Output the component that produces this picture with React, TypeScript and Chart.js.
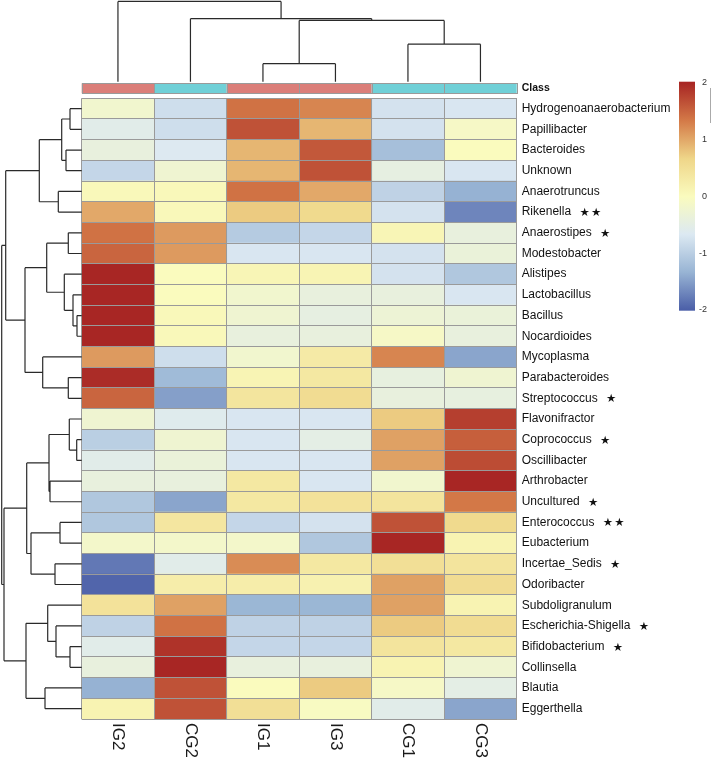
import React, { useEffect, useRef } from "react";
import { Chart, registerables } from "chart.js";
Chart.register(...registerables);

// ---------- DATA ----------
const columns = ["IG2", "CG2", "IG1", "IG3", "CG1", "CG3"];
const columnClass = ["IG", "CG", "IG", "IG", "CG", "CG"];
const classColors: Record<string, string> = { IG: "#DB7E79", CG: "#70D0D7" };

const genera = [
  "Hydrogenoanaerobacterium", "Papillibacter", "Bacteroides", "Unknown", "Anaerotruncus",
  "Rikenella", "Anaerostipes", "Modestobacter", "Alistipes", "Lactobacillus",
  "Bacillus", "Nocardioides", "Mycoplasma", "Parabacteroides", "Streptococcus",
  "Flavonifractor", "Coprococcus", "Oscillibacter", "Arthrobacter", "Uncultured",
  "Enterococcus", "Eubacterium", "Incertae_Sedis", "Odoribacter", "Subdoligranulum",
  "Escherichia-Shigella", "Bifidobacterium", "Collinsella", "Blautia", "Eggerthella",
];

const significance = [
  "", "", "", "", "", "**", "*", "", "", "",
  "", "", "", "", "*", "", "*", "", "", "*",
  "**", "", "*", "", "", "*", "*", "", "", "",
];

const valuesIG2 = [-0.2, -0.55, -0.4, -0.9, 0.05, 1.0, 1.4, 1.5, 2.0, 2.0, 2.0, 2.0, 1.1, 1.95, 1.5, -0.25, -1.0, -0.55, -0.4, -1.1, -1.1, -0.15, -1.8, -1.95, 0.45, -0.95, -0.55, -0.4, -1.35, 0.15];
const valuesCG2 = [-0.8, -0.8, -0.65, -0.25, 0.05, 0.05, 1.1, 1.1, 0.0, 0.0, 0.05, 0.05, -0.8, -1.25, -1.5, -0.6, -0.25, -0.35, -0.4, -1.45, 0.38, -0.15, -0.55, 0.25, 1.05, 1.4, 1.9, 2.0, 1.65, 1.65];
const valuesIG1 = [1.4, 1.65, 0.9, 0.9, 1.4, 0.75, -1.05, -0.7, 0.1, -0.2, -0.25, -0.4, -0.2, 0.12, 0.4, -0.7, -0.7, -0.7, 0.35, 0.35, -0.9, -0.15, 1.2, 0.25, -1.3, -0.95, -0.9, -0.4, 0.0, 0.5];
const valuesIG3 = [1.25, 0.9, 1.6, 1.65, 1.0, 0.6, -0.9, -0.7, 0.12, -0.4, -0.45, -0.4, 0.3, 0.35, 0.55, -0.7, -0.5, -0.7, -0.7, 0.45, -0.75, -1.1, 0.35, 0.18, -1.3, -0.95, -0.9, -0.4, 0.75, -0.05];
const valuesCG1 = [-0.75, -0.75, -1.2, -0.45, -0.95, -0.75, 0.1, -0.75, -0.75, -0.4, -0.3, -0.1, 1.25, -0.42, -0.4, 0.75, 1.05, 1.05, -0.2, 0.42, 1.65, 2.0, 0.5, 1.05, 1.05, 0.75, 0.42, 0.15, -0.1, -0.55];
const valuesCG3 = [-0.7, -0.1, 0.0, -0.7, -1.35, -1.7, -0.4, -0.35, -1.1, -0.7, -0.35, -0.4, -1.45, -0.25, -0.42, 1.8, 1.55, 1.7, 2.0, 1.35, 0.6, 0.15, 0.42, 0.55, 0.15, 0.55, 0.35, -0.25, -0.5, -1.45];
const columnValues = [valuesIG2, valuesCG2, valuesIG1, valuesIG3, valuesCG1, valuesCG3];

const legendTicks = [2, 1, 0, -1, -2];
const colorStops = [-2, -1.333, -0.667, 0, 0.667, 1.333, 2];
const colorHex = ["#4B5FA8", "#98B4D4", "#DCE9F2", "#FAFBBE", "#EFD689", "#D47A48", "#A82624"];

// Column dendrogram (leaf indices in display order; "m#" = earlier merge), heights
const colMerges: [string, string, number][] = [
  ["2", "3", 18],
  ["4", "5", 37.5],
  ["m0", "m1", 61.3],
  ["1", "m2", 63],
  ["0", "m3", 80.3],
];

// Row dendrogram
const rowMerges: [string, string, number][] = [
  ["0", "1", 11.7],    // m0
  ["2", "3", 15.7],    // m1
  ["m0", "m1", 20],    // m2
  ["4", "5", 23.4],    // m3
  ["m2", "m3", 42.4],  // m4
  ["6", "7", 13.4],    // m5
  ["10", "11", 4.7],   // m6
  ["9", "m6", 8.7],    // m7
  ["8", "m7", 17.4],   // m8
  ["m5", "m8", 35],    // m9
  ["13", "14", 13.4],  // m10
  ["12", "m10", 39],   // m11
  ["m9", "m11", 56.7], // m12
  ["m4", "m12", 76],   // m13
  ["16", "17", 5],     // m14
  ["15", "m14", 12.4], // m15
  ["18", "19", 31.7],  // m16
  ["m15", "m16", 32.7],// m17
  ["20", "21", 21.7],  // m18
  ["22", "23", 26.7],  // m19
  ["m18", "m19", 50.7],// m20
  ["m17", "m20", 55],  // m21
  ["26", "27", 11.7],  // m22
  ["25", "m22", 25.7], // m23
  ["24", "m23", 34],   // m24
  ["28", "29", 36.7],  // m25
  ["m24", "m25", 55.7],// m26
  ["m21", "m26", 77.7],// m27
  ["m13", "m27", 80],  // m28
];

// ---------- HELPERS ----------
function hexToRgb(h: string) {
  const n = parseInt(h.slice(1), 16);
  return [(n >> 16) & 255, (n >> 8) & 255, n & 255];
}
function valueToColor(v: number) {
  const x = Math.max(-2, Math.min(2, v));
  let i = 0;
  while (i < colorStops.length - 2 && x > colorStops[i + 1]) i++;
  const t = (x - colorStops[i]) / (colorStops[i + 1] - colorStops[i]);
  const a = hexToRgb(colorHex[i]);
  const b = hexToRgb(colorHex[i + 1]);
  const c = a.map((av, k) => Math.round(av + (b[k] - av) * t));
  return `rgb(${c[0]},${c[1]},${c[2]})`;
}

const FONT = '"Liberation Sans", Arial, Helvetica, sans-serif';

function drawDendrogram(
  ctx: CanvasRenderingContext2D,
  merges: [string, string, number][],
  leafPos: (i: number) => number,
  toPix: (h: number) => number,
  vertical: boolean
) {
  const nodes: { pos: number; h: number }[] = [];
  const get = (id: string) =>
    id.startsWith("m") ? nodes[parseInt(id.slice(1), 10)] : { pos: leafPos(parseInt(id, 10)), h: 0 };
  const line = (p1: number, h1: number, p2: number, h2: number) => {
    if (vertical) {
      ctx.moveTo(p1, toPix(h1));
      ctx.lineTo(p2, toPix(h2));
    } else {
      ctx.moveTo(toPix(h1), p1);
      ctx.lineTo(toPix(h2), p2);
    }
  };
  ctx.beginPath();
  merges.forEach(([a, b, h]) => {
    const na = get(a);
    const nb = get(b);
    line(na.pos, na.h, na.pos, h);
    line(nb.pos, nb.h, nb.pos, h);
    line(na.pos, h, nb.pos, h);
    nodes.push({ pos: (na.pos + nb.pos) / 2, h });
  });
  ctx.stroke();
}

const decorPlugin = {
  id: "heatmapDecor",
  afterDraw(chart: any) {
    const ctx: CanvasRenderingContext2D = chart.ctx;
    const xs = chart.scales.x;
    const ys = chart.scales.y;
    const area = chart.chartArea;
    ctx.save();

    // class annotation bar
    const barTop = area.top - 15;
    const barH = 10;
    columns.forEach((_, c) => {
      const x0 = xs.getPixelForValue(c);
      const x1 = xs.getPixelForValue(c + 1);
      ctx.fillStyle = classColors[columnClass[c]];
      ctx.fillRect(x0, barTop, x1 - x0, barH);
    });
    ctx.strokeStyle = "#9a9a9a";
    ctx.lineWidth = 1;
    columns.forEach((_, c) => {
      const x0 = Math.round(xs.getPixelForValue(c)) + 0.5;
      const x1 = Math.round(xs.getPixelForValue(c + 1)) + 0.5;
      ctx.strokeRect(x0, Math.round(barTop) + 0.5, x1 - x0, barH);
    });
    ctx.fillStyle = "#111";
    ctx.font = `bold 10.5px ${FONT}`;
    ctx.textAlign = "left";
    ctx.textBaseline = "middle";
    ctx.fillText("Class", area.right + 5, barTop + barH / 2);

    // dendrograms
    ctx.strokeStyle = "#2a2a2a";
    ctx.lineWidth = 1.2;
    drawDendrogram(
      ctx,
      colMerges,
      (i) => xs.getPixelForValue(i + 0.5),
      (h) => 81.7 - h,
      true
    );
    drawDendrogram(
      ctx,
      rowMerges,
      (i) => ys.getPixelForValue(i),
      (h) => area.left - h,
      false
    );

    // column labels (rotated, reading top to bottom)
    ctx.fillStyle = "#1a1a1a";
    ctx.font = `17px ${FONT}`;
    ctx.textAlign = "left";
    ctx.textBaseline = "middle";
    columns.forEach((name, c) => {
      const x = xs.getPixelForValue(c + 0.5);
      ctx.save();
      ctx.translate(x, area.bottom + 4);
      ctx.rotate(Math.PI / 2);
      ctx.fillText(name, 0, 0);
      ctx.restore();
    });

    // significance stars
    genera.forEach((g, i) => {
      const s = significance[i];
      if (!s) return;
      ctx.font = `12px ${FONT}`;
      const w = ctx.measureText(g).width;
      const y = ys.getPixelForValue(i) + 1;
      ctx.font = `11.5px "DejaVu Sans", sans-serif`;
      ctx.fillStyle = "#111";
      ctx.textAlign = "center";
      ctx.textBaseline = "middle";
      for (let k = 0; k < s.length; k++) {
        ctx.fillText("\u2605", area.right + 5 + w + 13.5 + k * 11.5, y);
      }
    });

    // colour legend
    const lx = 679;
    const lw = 16;
    const vy = (v: number) => 196.5 - 56.75 * v;
    const top = 81.7;
    const bottom = 310.7;
    const grad = ctx.createLinearGradient(0, vy(2), 0, vy(-2));
    colorStops.forEach((s, k) => {
      grad.addColorStop((2 - s) / 4, colorHex[k]);
    });
    ctx.fillStyle = grad;
    ctx.fillRect(lx, top, lw, bottom - top);
    ctx.fillStyle = "#333";
    ctx.font = `9px ${FONT}`;
    ctx.textAlign = "right";
    ctx.textBaseline = "middle";
    legendTicks.forEach((t) => {
      ctx.fillText(String(t), 707, vy(t));
    });
    ctx.strokeStyle = "#aaaaaa";
    ctx.lineWidth = 1;
    ctx.beginPath();
    ctx.moveTo(710.5, 88);
    ctx.lineTo(710.5, 123);
    ctx.stroke();

    ctx.restore();
  },
};

export default function App() {
  const ref = useRef<HTMLCanvasElement | null>(null);
  useEffect(() => {
    document.body.style.margin = "0";
    const canvas = ref.current;
    if (!canvas) return;
    const datasets = columns.map((col, c) => ({
      label: col,
      data: genera.map(() => [c, c + 1]),
      backgroundColor: columnValues[c].map(valueToColor),
      borderWidth: 0,
      barPercentage: 1,
      categoryPercentage: 1,
      grouped: false,
    }));
    const chart = new Chart(canvas, {
      type: "bar",
      data: { labels: genera, datasets: datasets as any },
      options: {
        indexAxis: "y",
        responsive: false,
        animation: false,
        layout: { padding: { left: 81.7, top: 98.3, right: 0, bottom: 40 } },
        plugins: { legend: { display: false }, tooltip: { enabled: false } },
        scales: {
          x: {
            type: "linear",
            min: 0,
            max: 6,
            position: "bottom",
            ticks: { display: false, stepSize: 1 },
            grid: { color: "#9a9a9a", lineWidth: 1, drawTicks: false, z: 1 },
            border: { display: false },
          },
          y: {
            type: "category",
            position: "right",
            offset: true,
            ticks: {
              autoSkip: false,
              padding: 5,
              color: "#111",
              font: { family: FONT, size: 12 },
            },
            grid: { color: "#9a9a9a", lineWidth: 1, drawTicks: false, offset: true, z: 1 },
            border: { display: false },
            afterFit: (s: any) => {
              s.width = 194.3;
            },
          },
        },
      } as any,
      plugins: [decorPlugin],
    });
    return () => chart.destroy();
  }, []);
  return (
    <div style={{ width: 711, height: 759 }}>
      <canvas ref={ref} width={711} height={759} style={{ display: "block" }} />
    </div>
  );
}
